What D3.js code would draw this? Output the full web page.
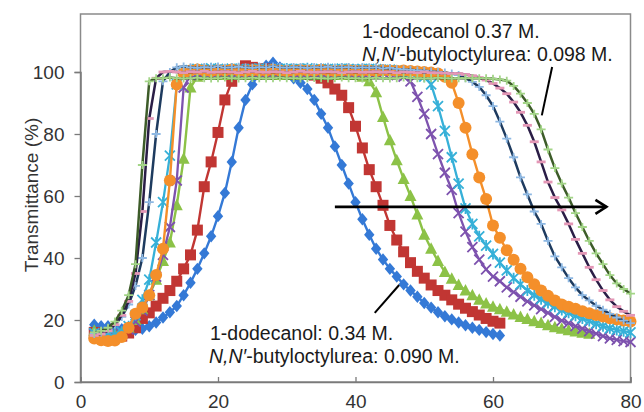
<!DOCTYPE html>
<html>
<head>
<meta charset="utf-8">
<script src="https://cdn.jsdelivr.net/npm/d3@7"></script>
<style>
  body { margin: 0; background: #fff; }
  svg { display: block; font-family: "Liberation Sans", Arial, sans-serif; }
</style>
</head>
<body>
<svg id="chart" width="644" height="412"></svg>
<script>
// temperature (°C) grid of the measurements
const temperature = [
  2, 3, 4, 5, 6, 7, 8, 9, 10, 11,
  12, 13, 14, 15, 16, 17, 18, 19, 20, 21,
  22, 23, 24, 25, 26, 27, 28, 29, 30, 31,
  32, 33, 34, 35, 36, 37, 38, 39, 40, 41,
  42, 43, 44, 45, 46, 47, 48, 49, 50, 51,
  52, 53, 54, 55, 56, 57, 58, 59, 60, 61,
  62, 63, 64, 65, 66, 67, 68, 69, 70, 71,
  72, 73, 74, 75, 76, 77, 78, 79, 80
];

// transmittance (%) per series
const blueDiamond = [
  18.5, 18, 18, 17.5, 17, 16.8, 16.8, 17.2, 18, 19.2,
  20.8, 22.5, 24.5, 28, 32, 36.5, 41.5, 47, 53.5, 61,
  71, 82, 91, 96, 99.5, 102, 103, 101.5, 99.5, 98,
  96.5, 94.5, 91, 86.5, 82, 76, 70, 64, 58, 52.5,
  47.5, 43, 39.5, 36.5, 34, 31.5, 29.5, 27.5, 25.5, 24,
  22.5, 21.2, 20.2, 19.2, 18.3, 17.5, 16.8, 16.1, 15.5, 15
];
const redSquare = [
  16, 15.2, 14.6, 14.5, 14.8, 15.8, 17.5, 20.5, 22.3, 24.5,
  27, 29.5, 32.5, 36.5, 41, 49, 63, 71, 80.5, 91,
  97, 100.5, 102, 101.5, 101, 101, 100.5, 100.5, 100, 100,
  99.8, 99.5, 99, 98, 96.5, 94.5, 92.5, 88.5, 82.5, 75.5,
  68.5, 63, 57, 50.5, 45.8, 42, 38.5, 35.7, 33.5, 31.3,
  29.5, 28, 26.5, 25.1, 23.8, 22.7, 21.6, 20.5, 19.6, 19
];
const greenTriangle = [
  16.5, 15.8, 15.3, 15.3, 16, 17.5, 20, 23.5, 28, 33,
  39, 45, 57, 72, 95, 98.5, 99, 99, 99.2, 99,
  99.3, 99, 99.2, 99, 99.3, 99, 99.2, 99, 99.3, 99,
  99.2, 99, 99.2, 99, 99.2, 99, 99.1, 99, 99, 98.5,
  97, 93.5, 85.5, 78, 71.5, 65.5, 60, 54, 47.5, 43,
  39, 35.5, 33.3, 31.3, 29.5, 28, 26.5, 25.3, 24.3, 23.5,
  22.7, 21.8, 21, 20.3, 19.6, 19, 18.3, 17.7, 17.2, 16.7,
  16.3, 15.9, 15.6
];
const purpleX = [
  15.5, 15, 14.8, 15, 15.7, 17, 19.5, 23, 28, 34,
  41, 50, 65, 95, 99, 99.6, 100, 100.2, 99.8, 100,
  100.3, 100, 99.8, 100.1, 100, 99.7, 100, 100.2, 100, 99.8,
  100, 100.1, 99.9, 100, 100.2, 100, 99.8, 100, 100.1, 100,
  99.8, 99.9, 99.7, 99.5, 99, 98.5, 97, 92, 86.5, 80,
  73.5, 67.5, 62, 54.5, 48.5, 43.5, 39.5, 36.3, 34, 32.5,
  30.5, 29, 27.5, 26, 24.7, 23.5, 22.3, 21, 19.8, 19,
  18, 17.2, 16.4, 15.6, 14.8, 14.1, 13.6, 13.2, 12.9
];
const cyanStar = [
  15.8, 15.3, 15, 15.2, 16.2, 18, 21.5, 26.5, 33, 45,
  58, 73, 96, 99.5, 100.6, 101, 100.8, 101.2, 101, 100.8,
  101.1, 101, 100.7, 101, 101.2, 101, 100.8, 101, 101.1, 100.9,
  101, 101.2, 100.8, 101, 101, 100.9, 101.1, 101, 100.8, 101,
  101, 100.9, 100.7, 100.8, 100.5, 100.3, 100, 99.5, 98.5, 96,
  89, 81, 72.5, 64, 56, 51, 47, 44, 41.3, 38.5,
  36, 33.5, 31.5, 29.5, 28, 26.7, 25.5, 24.3, 23.2, 22.3,
  21.4, 20.5, 19.7, 18.8, 18, 17.3, 16.8, 16.4, 16
];
const orangeCircle = [
  14, 13.5, 13.2, 13.4, 14.5, 17.5, 22, 24, 28, 34.5,
  43, 65, 96, 99.5, 100.5, 100.8, 100.5, 100.3, 100.6, 100.5,
  100.8, 100.5, 100.3, 100.6, 100.5, 100.4, 100.7, 100.5, 100.3, 100.5,
  100.6, 100.5, 100.4, 100.7, 100.5, 100.3, 100.5, 100.6, 100.4, 100.5,
  100.5, 100.3, 100.6, 100.5, 100.4, 100.5, 100.3, 100.2, 100, 99.8,
  99.5, 98.5, 96.5, 90, 82, 73.5, 66, 59, 50.5, 46.5,
  42.5, 39.4, 36.5, 33.8, 31.5, 29.5, 27.8, 26.3, 25, 24.3,
  23.6, 22.8, 22.2, 21.6, 21.1, 20.6, 20.2, 19.8, 19.5
];
const navyPlus = [
  15.5, 16, 17, 18.5, 21, 25, 31, 40, 58, 80,
  97, 100, 101.5, 101.8, 101.5, 101.3, 101.6, 101.5, 101.8, 101.4,
  101.5, 101.7, 101.5, 101.3, 101.6, 101.5, 101.8, 101.5, 101.4, 101.6,
  101.5, 101.3, 101.6, 101.5, 101.7, 101.4, 101.5, 101.6, 101.3, 101.5,
  101.4, 101.5, 101.2, 101.3, 101, 100.8, 100.7, 100.5, 100.4, 100.2,
  100, 99.8, 99.5, 99, 98, 96.8, 95.2, 92.5, 89, 84,
  78.5, 72.5, 66, 60.5, 55, 51, 45.5, 40.5, 37, 33.5,
  30.5, 28, 26.3, 24.6, 23.3, 22, 20.8, 19.8, 19
];
const blackDash = [
  15, 15.5, 16.5, 18.5, 21.5, 26, 35, 55, 85, 98,
  100, 100.2, 100, 99.8, 100.1, 100, 100.2, 99.9, 100, 100.1,
  100, 99.8, 100, 100.2, 100, 99.9, 100.1, 100, 99.8, 100,
  100.2, 100, 99.9, 100, 100.1, 100, 99.8, 100, 100.1, 99.9,
  100, 100.1, 99.9, 100, 99.8, 100, 99.9, 99.8, 100, 99.8,
  99.7, 99.6, 99.5, 99.5, 99.2, 98.8, 98.2, 97.4, 96.3, 94.8,
  93, 90.3, 87, 82.8, 77.5, 71, 64.5, 59.5, 55.5, 51,
  46, 41.5, 37, 33, 29.5, 26.5, 24.3, 22.8, 21.5
];
const darkGreenPlus = [
  16, 16.5, 17.5, 19.5, 23, 28, 38, 70, 97, 98,
  98, 98.2, 98, 97.9, 98, 98.1, 98, 97.9, 98, 98.2,
  98, 97.9, 98, 98.1, 98, 97.9, 98, 98.2, 98, 98,
  97.9, 98, 98.1, 98, 97.9, 98, 98.2, 98, 98, 97.9,
  98, 98.1, 98, 97.9, 98, 98.2, 98, 98, 97.9, 98,
  98.1, 98, 97.9, 98, 98, 98, 98, 98, 97.8, 97.6,
  97.2, 95.5, 93, 90, 86.5, 81.5, 75, 69, 64, 59.5,
  54.5, 50, 45.5, 41.5, 38, 34.5, 31.8, 30, 28.5
];

const xTicks = [0, 20, 40, 60, 80];
const yTicks = [0, 20, 40, 60, 80, 100];

const series = [
  { values: blueDiamond,   line: "#3479d6", mark: "#3479d6", shape: "diamond",  width: 2.4 },
  { values: redSquare,     line: "#c13633", mark: "#c13633", shape: "square",   width: 2.4 },
  { values: greenTriangle, line: "#8cc247", mark: "#8cc247", shape: "triangle", width: 2.4 },
  { values: purpleX,       line: "#7d52ae", mark: "#7d52ae", shape: "x",        width: 2.3 },
  { values: cyanStar,      line: "#36b0d8", mark: "#36b0d8", shape: "star",     width: 2.3 },
  { values: orangeCircle,  line: "#f48f2a", mark: "#f48f2a", shape: "circle",   width: 2.4 },
  { values: navyPlus,      line: "#1e3b5f", mark: "#8db8e3", shape: "plus",     width: 2.5 },
  { values: blackDash,     line: "#2a1d46", mark: "#e497b6", shape: "dash",     width: 2.5 },
  { values: darkGreenPlus, line: "#3d5c29", mark: "#a3d587", shape: "plus",     width: 2.5 }
];

const svg = d3.select("#chart");
const plotLeft = 80.5, plotRight = 630.5, plotTop = 14, plotBottom = 382;

const x = d3.scaleLinear().domain([0, 80]).range([plotLeft, plotRight]);
const y = d3.scaleLinear().domain([0, 100]).range([plotBottom, 72]);

// plot frame
svg.append("rect")
  .attr("x", plotLeft).attr("y", plotTop)
  .attr("width", plotRight - plotLeft).attr("height", plotBottom - plotTop)
  .attr("fill", "none").attr("stroke", "#8a8a8a").attr("stroke-width", 1.5);

// axes
const xAxis = svg.append("g")
  .attr("transform", `translate(0,${plotBottom})`)
  .call(d3.axisBottom(x).tickValues(xTicks).tickSize(-5).tickPadding(13));
const yAxis = svg.append("g")
  .attr("transform", `translate(${plotLeft},0)`)
  .call(d3.axisLeft(y).tickValues(yTicks).tickSize(6).tickPadding(10));
[xAxis, yAxis].forEach(g => {
  g.select(".domain").attr("stroke", "#7a7a7a").attr("stroke-width", 1.5);
  g.selectAll(".tick line").attr("stroke", "#7a7a7a").attr("stroke-width", 1.3);
  g.selectAll(".tick text").attr("fill", "#333").style("font-size", "19px")
    .style("font-family", '"Liberation Sans", Arial, sans-serif');
});

svg.append("text")
  .attr("transform", "translate(38,195) rotate(-90)")
  .attr("text-anchor", "middle")
  .attr("fill", "#333")
  .style("font-size", "19px")
  .text("Transmittance (%)");

// marker shapes
function shapePath(shape) {
  switch (shape) {
    case "diamond": return "M0,-6.2L5.2,0L0,6.2L-5.2,0Z";
    case "square": return "M-5.5,-5.5h11v11h-11Z";
    case "triangle": return "M0,-6.5L6,5L-6,5Z";
    case "x": return "M-5,-5L5,5M-5,5L5,-5";
    case "star": return "M-5,-5L5,5M-5,5L5,-5M0,-5.5V5.5";
    case "plus": return "M-4.5,0H4.5M0,-4V4";
    case "dash": return "M-4.5,0H4.5";
  }
}
const filled = { diamond: true, square: true, triangle: true };

const line = d3.line().x(d => x(d[0])).y(d => y(d[1]));

series.forEach(s => {
  const pts = s.values.map((v, i) => [temperature[i], v]);
  const g = svg.append("g");
  g.append("path")
    .attr("d", line(pts))
    .attr("fill", "none")
    .attr("stroke", s.line)
    .attr("stroke-width", s.width)
    .attr("stroke-linejoin", "round");
  if (s.shape === "circle") {
    g.selectAll("circle").data(pts).join("circle")
      .attr("cx", d => x(d[0])).attr("cy", d => y(d[1]))
      .attr("r", 6).attr("fill", s.mark);
  } else {
    g.selectAll("path.m").data(pts).join("path")
      .attr("class", "m")
      .attr("transform", d => `translate(${x(d[0])},${y(d[1])})`)
      .attr("d", shapePath(s.shape))
      .attr("fill", filled[s.shape] ? s.mark : "none")
      .attr("stroke", filled[s.shape] ? "none" : s.mark)
      .attr("stroke-width", s.shape === "dash" ? 2.8 : 1.8);
  }
});

// arrow showing the shift with concentration
const arrowY = y(56.5), ax1 = x(37), ax2 = x(76.5);
svg.append("line")
  .attr("x1", ax1).attr("x2", ax2).attr("y1", arrowY).attr("y2", arrowY)
  .attr("stroke", "#000").attr("stroke-width", 2.6);
svg.append("path")
  .attr("d", `M${ax2 - 11},${arrowY - 7}L${ax2},${arrowY}L${ax2 - 11},${arrowY + 7}`)
  .attr("fill", "none").attr("stroke", "#000").attr("stroke-width", 2.6);

// annotations
svg.append("line")
  .attr("x1", x(68.6)).attr("y1", y(101.6)).attr("x2", x(67.1)).attr("y2", y(86))
  .attr("stroke", "#000").attr("stroke-width", 2);
svg.append("line")
  .attr("x1", x(46.35)).attr("y1", y(31.3)).attr("x2", x(42.8)).attr("y2", y(22.3))
  .attr("stroke", "#000").attr("stroke-width", 2);

function label(xp, yp, parts) {
  const t = svg.append("text").attr("x", xp).attr("y", yp)
    .attr("fill", "#1a1a1a").style("font-size", "19.5px");
  parts.forEach(p => t.append("tspan").style("font-style", p[1] ? "italic" : "normal").text(p[0]));
}
label(362, 38, [["1-dodecanol 0.37 M.", false]]);
label(362, 61, [["N,N′", true], ["-butyloctylurea: 0.098 M.", false]]);
label(210, 340, [["1-dodecanol: 0.34 M.", false]]);
label(209, 363, [["N,N′", true], ["-butyloctylurea: 0.090 M.", false]]);
</script>
</body>
</html>
